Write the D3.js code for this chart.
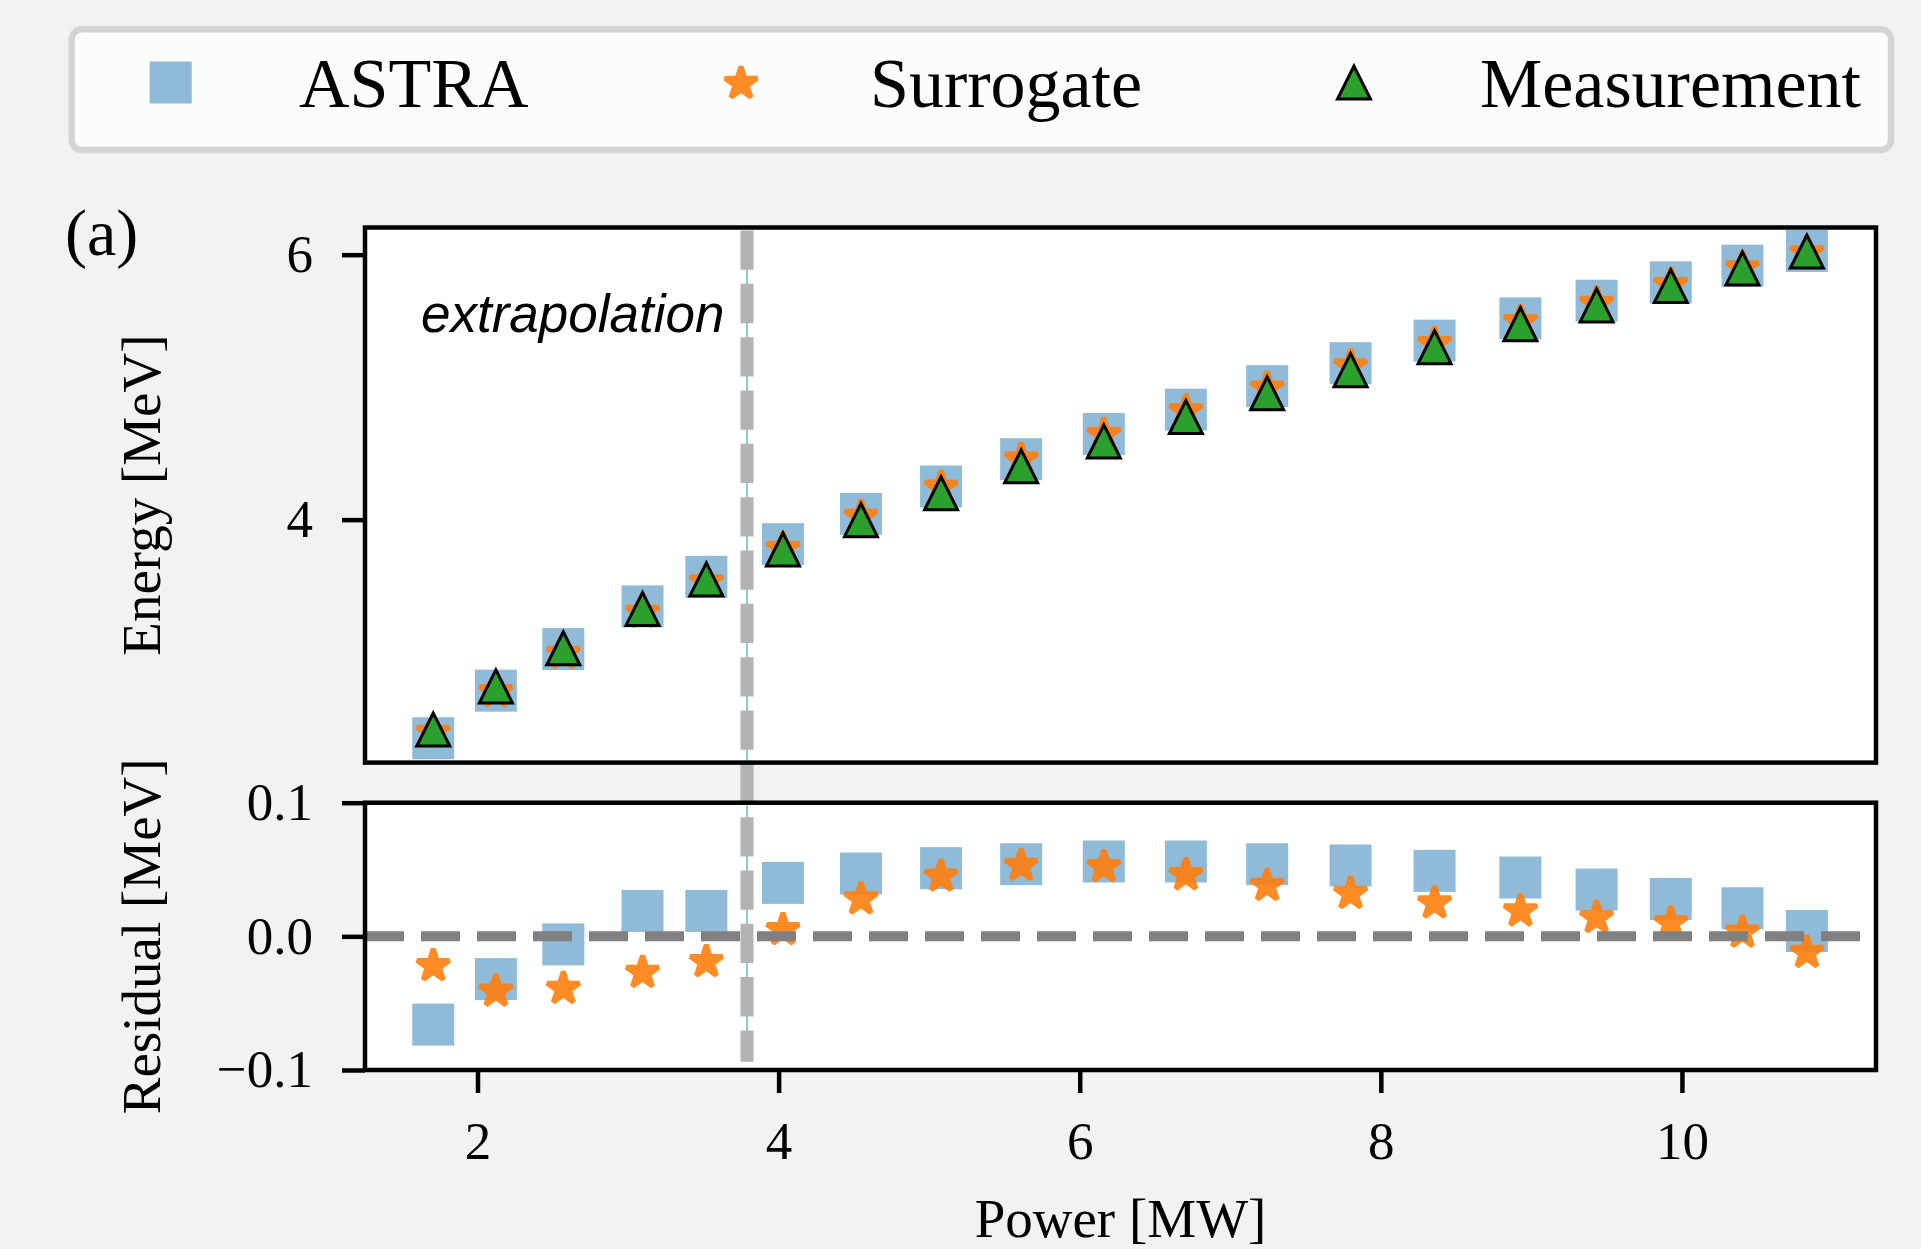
<!DOCTYPE html>
<html>
<head>
<meta charset="utf-8">
<script src="https://cdn.jsdelivr.net/npm/d3@7"></script>
<style>
  body { margin: 0; background: #f2f2f2; }
  svg { display: block; }
  text { font-family: "Liberation Serif", "Times New Roman", serif; fill: #000; }
</style>
</head>
<body>
<svg id="chart" width="1921" height="1249"></svg>
<script>
// values
var power = [1.706, 2.122, 2.570, 3.096, 3.520, 4.029, 4.547, 5.079, 5.611, 6.160,
             6.705, 7.245, 7.799, 8.357, 8.927, 9.433, 9.926, 10.402, 10.830];
var energyMeasured = [2.416, 2.741, 3.029, 3.326, 3.549, 3.775, 3.996, 4.199, 4.402, 4.590,
                      4.774, 4.953, 5.128, 5.302, 5.475, 5.617, 5.763, 5.896, 6.024];
var energyAstra = [2.350, 2.709, 3.023, 3.345, 3.568, 3.815, 4.043, 4.250, 4.456, 4.646,
                   4.830, 5.007, 5.181, 5.351, 5.519, 5.652, 5.791, 5.917, 6.028];
var energySurrogate = [2.394, 2.700, 2.990, 3.299, 3.530, 3.780, 4.024, 4.244, 4.455, 4.642,
                       4.820, 4.991, 5.160, 5.327, 5.494, 5.631, 5.773, 5.899, 6.012];
var residualAstra = [-0.066, -0.032, -0.006, 0.019, 0.019, 0.040, 0.047, 0.051, 0.054, 0.056,
                     0.056, 0.054, 0.053, 0.049, 0.044, 0.035, 0.028, 0.021, 0.004];
var residualSurrogate = [-0.022, -0.041, -0.039, -0.027, -0.019, 0.005, 0.028, 0.045, 0.053, 0.052,
                         0.046, 0.038, 0.032, 0.025, 0.019, 0.014, 0.010, 0.003, -0.012];
var extrapolationLimit = 3.79;
var xTicks = [2, 4, 6, 8, 10];
var energyTicks = [4, 6];
var residualTicks = [-0.1, 0.0, 0.1];
var legendNames = ["ASTRA", "Surrogate", "Measurement"];

var svg = d3.select("#chart");
svg.append("rect").attr("width", 1921).attr("height", 1249).attr("fill", "#f2f2f2");

var left = 365, right = 1876;
var top1 = 227.5, bot1 = 762.6;
var top2 = 802.7, bot2 = 1070;

var x = d3.scaleLinear().domain([1.2527, 11.289]).range([left, right]);
var yE = d3.scaleLinear().domain([2.166, 6.205]).range([bot1, top1]);
var yR = d3.scaleLinear().domain([-0.1, 0.1]).range([bot2, top2]);

var blue = "#1f77b4", orange = "#ff7f0e", green = "#2ca02c";
var sq = 42, starR = 17, triH = 16.5;

function starPath(r) {
    var pts = [];
    for (var i = 0; i < 10; i++) {
        var a = -Math.PI / 2 + i * Math.PI / 5;
        var rr = i % 2 === 0 ? r : r * 0.381966;
        pts.push([rr * Math.cos(a), rr * Math.sin(a)]);
    }
    return "M" + pts.map(function(p) { return p[0].toFixed(2) + "," + p[1].toFixed(2); }).join("L") + "Z";
}
function triPath(h) {
    return "M0," + (-h) + "L" + (-h) + "," + h + "L" + h + "," + h + "Z";
}
function styleStar(sel) {
    sel.attr("d", starPath(starR))
        .attr("fill", orange).attr("stroke", orange).attr("stroke-width", 5)
        .attr("stroke-linejoin", "bevel").attr("opacity", 0.9);
}

// axes backgrounds
svg.append("rect").attr("x", left).attr("y", top1).attr("width", right - left).attr("height", bot1 - top1).attr("fill", "#fff");
svg.append("rect").attr("x", left).attr("y", top2).attr("width", right - left).attr("height", bot2 - top2).attr("fill", "#fff");

svg.append("clipPath").attr("id", "c1").append("rect")
    .attr("x", left).attr("y", top1).attr("width", right - left).attr("height", bot1 - top1);
svg.append("clipPath").attr("id", "c2").append("rect")
    .attr("x", left).attr("y", top2).attr("width", right - left).attr("height", bot2 - top2);

// ---- top panel: energy
var g1 = svg.append("g").attr("clip-path", "url(#c1)");
g1.selectAll(".sq").data(power).enter().append("rect")
    .attr("x", function(d) { return x(d) - sq / 2; })
    .attr("y", function(d, i) { return yE(energyAstra[i]) - sq / 2; })
    .attr("width", sq).attr("height", sq)
    .attr("fill", blue).attr("fill-opacity", 0.5);
g1.selectAll(".st").data(power).enter().append("path")
    .attr("transform", function(d, i) { return "translate(" + x(d) + "," + yE(energySurrogate[i]) + ")"; })
    .call(styleStar);
g1.selectAll(".tr").data(power).enter().append("path")
    .attr("d", triPath(triH))
    .attr("transform", function(d, i) { return "translate(" + x(d) + "," + yE(energyMeasured[i]) + ")"; })
    .attr("fill", green).attr("stroke", "#000").attr("stroke-width", 3).attr("stroke-linejoin", "miter");

svg.append("text")
    .attr("x", 421).attr("y", 332)
    .style("font-family", "'Liberation Sans', Arial, sans-serif")
    .style("font-style", "italic")
    .style("font-size", "53px")
    .text("extrapolation");

// ---- bottom panel: residuals
var g2 = svg.append("g").attr("clip-path", "url(#c2)");
g2.selectAll(".sq").data(power).enter().append("rect")
    .attr("x", function(d) { return x(d) - sq / 2; })
    .attr("y", function(d, i) { return yR(residualAstra[i]) - sq / 2; })
    .attr("width", sq).attr("height", sq)
    .attr("fill", blue).attr("fill-opacity", 0.5);
g2.selectAll(".st").data(power).enter().append("path")
    .attr("transform", function(d, i) { return "translate(" + x(d) + "," + yR(residualSurrogate[i]) + ")"; })
    .call(styleStar);
g2.append("line")
    .attr("x1", left).attr("x2", right)
    .attr("y1", yR(0)).attr("y2", yR(0))
    .attr("stroke", "#808080").attr("stroke-width", 10)
    .attr("stroke-dasharray", "39,17");

// extrapolation boundary spanning both panels
var vx = x(extrapolationLimit);
svg.append("line")
    .attr("x1", vx).attr("x2", vx).attr("y1", top1 + 3).attr("y2", 1061.7)
    .attr("stroke", "#30b4a0").attr("stroke-width", 1.2);
svg.append("line")
    .attr("x1", vx).attr("x2", vx).attr("y1", top1 + 3).attr("y2", 1061.7)
    .attr("stroke", "#b3b3b3").attr("stroke-width", 13)
    .attr("stroke-dasharray", "39.3,14.03");

// frames
[[top1, bot1], [top2, bot2]].forEach(function(p) {
    svg.append("rect").attr("x", left).attr("y", p[0]).attr("width", right - left).attr("height", p[1] - p[0])
        .attr("fill", "none").attr("stroke", "#000").attr("stroke-width", 4.5);
});

function styleAxis(sel) {
    sel.select(".domain").remove();
    sel.selectAll(".tick line").attr("stroke", "#000").attr("stroke-width", 4.5);
    sel.selectAll(".tick text").style("font-family", "'Liberation Serif', 'Times New Roman', serif").style("font-size", "53px");
}

svg.append("g").attr("transform", "translate(" + left + ",0)")
    .call(d3.axisLeft(yE).tickValues(energyTicks).tickFormat(d3.format("d")).tickSize(23).tickPadding(29))
    .call(styleAxis);
svg.append("g").attr("transform", "translate(" + left + ",0)")
    .call(d3.axisLeft(yR).tickValues(residualTicks).tickFormat(function(d) { return d3.format(".1f")(d).replace("-", "\u2212"); }).tickSize(23).tickPadding(29))
    .call(styleAxis);
svg.append("g").attr("transform", "translate(0," + bot2 + ")")
    .call(d3.axisBottom(x).tickValues(xTicks).tickFormat(d3.format("d")).tickSize(23).tickPadding(28))
    .call(styleAxis);

// axis labels
svg.append("text").attr("transform", "translate(159.5," + (top1 + bot1) / 2 + ") rotate(-90)")
    .attr("text-anchor", "middle").style("font-size", "55px").text("Energy [MeV]");
svg.append("text").attr("transform", "translate(159.5," + (top2 + bot2) / 2 + ") rotate(-90)")
    .attr("text-anchor", "middle").style("font-size", "55px").text("Residual [MeV]");
svg.append("text").attr("x", (left + right) / 2).attr("y", 1237)
    .attr("text-anchor", "middle").style("font-size", "55px").text("Power [MW]");
svg.append("text").attr("x", 65).attr("y", 255).style("font-size", "66px").text("(a)");

// legend
var lg = svg.append("g");
lg.append("rect").attr("x", 71.7).attr("y", 29.3).attr("width", 1891 - 71.7).attr("height", 150 - 29.3)
    .attr("rx", 10).attr("fill", "#fcfcfc").attr("stroke", "#d4d4d4").attr("stroke-width", 6.5);
var legMarkX = [170.7, 741, 1354], legTextX = [299, 870, 1480], legY = 82.5;
lg.append("rect").attr("x", legMarkX[0] - sq / 2).attr("y", legY - sq / 2).attr("width", sq).attr("height", sq)
    .attr("fill", blue).attr("fill-opacity", 0.5);
lg.append("path").attr("transform", "translate(" + legMarkX[1] + "," + (legY + 1) + ")")
    .call(styleStar);
lg.append("path").attr("d", triPath(triH)).attr("transform", "translate(" + legMarkX[2] + "," + legY + ")")
    .attr("fill", green).attr("stroke", "#000").attr("stroke-width", 3);
legendNames.forEach(function(n, i) {
    lg.append("text").attr("x", legTextX[i]).attr("y", 107.3).style("font-size", "70px").text(n);
});
</script>
</body>
</html>
